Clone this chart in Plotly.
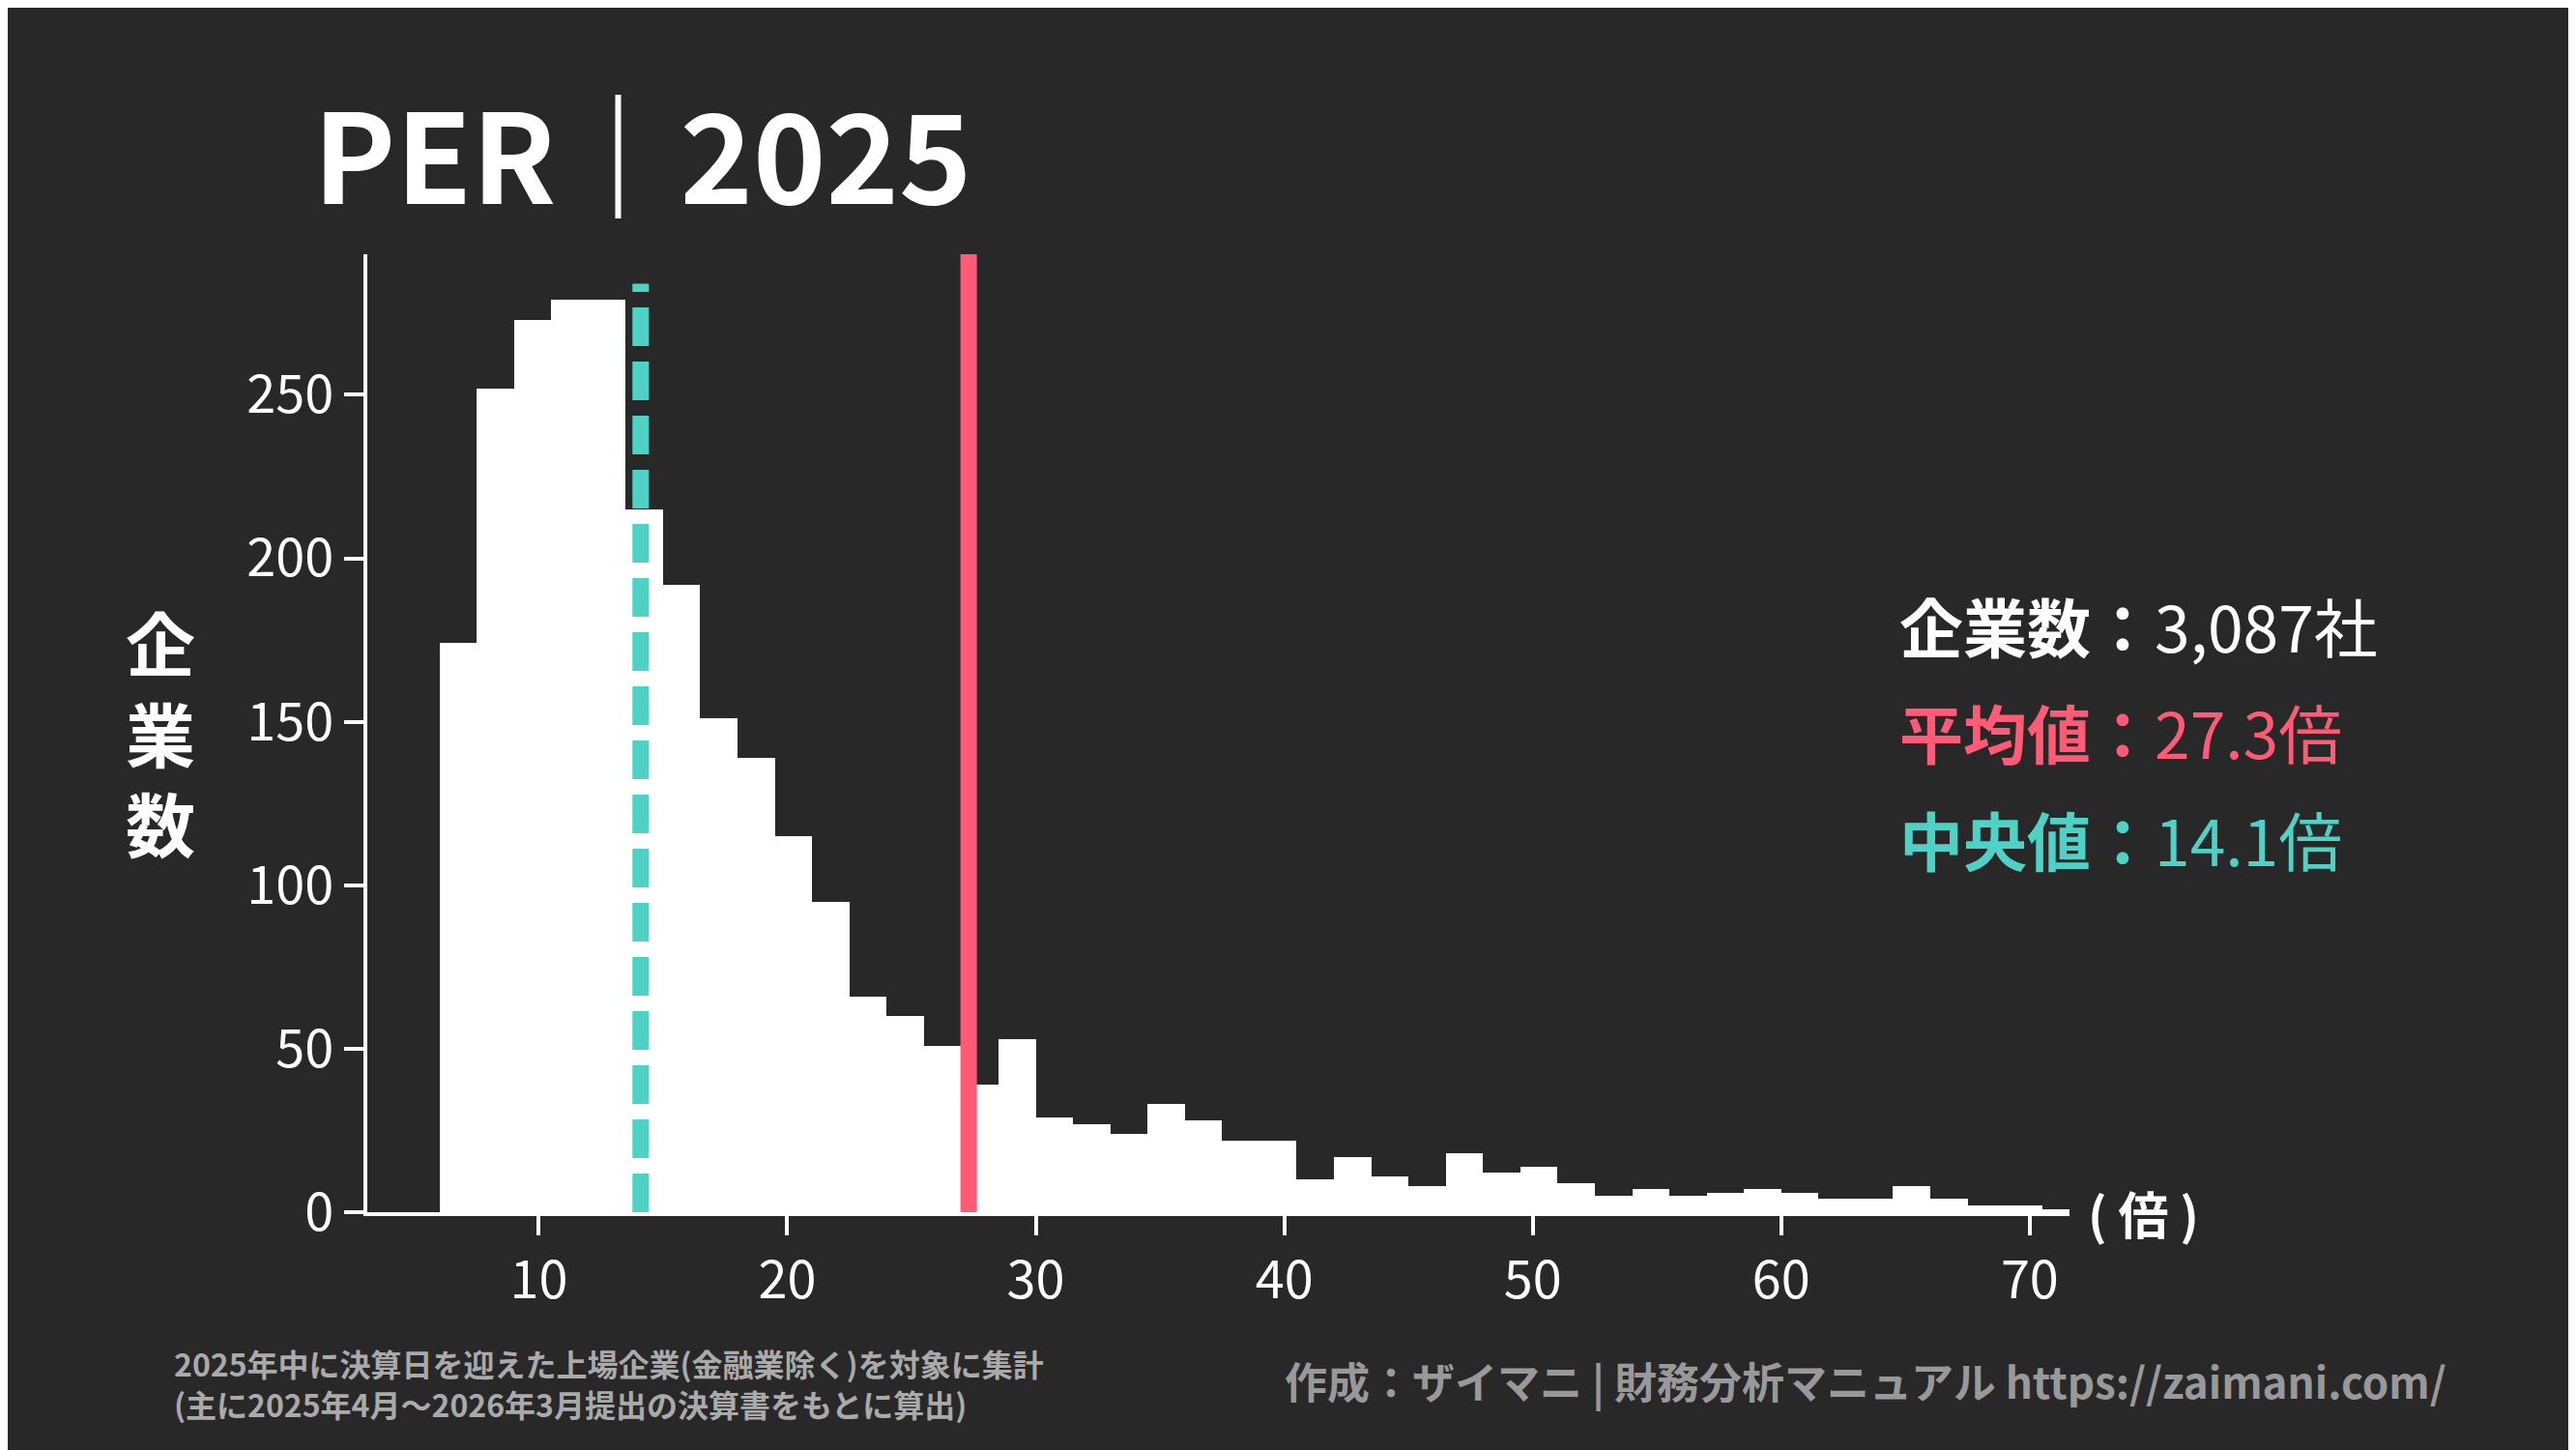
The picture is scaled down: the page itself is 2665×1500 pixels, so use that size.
import plotly.graph_objects as go

bin_start = 6.0
bin_width = 1.5
counts = [174, 252, 273, 279, 279, 215, 192, 151, 139, 115, 95, 66, 60, 51, 39, 53,
          29, 27, 24, 33, 28, 22, 22, 10, 17, 11, 8, 18, 12, 14, 9, 5, 7, 5, 6, 7,
          6, 4, 4, 8, 4, 2, 2, 1]
mean_val = 27.3
median_val = 14.1
n_companies = "3,087"
x_ticks = [10, 20, 30, 40, 50, 60, 70]
y_ticks = [0, 50, 100, 150, 200, 250]

centers = [bin_start + bin_width * (i + 0.5) for i in range(len(counts))]

BG = "#282828"
RED = "#ff5a76"
TEAL = "#4fd1c5"
FONT = "Noto Sans CJK JP"

L, R, T, B = 372, 2133, 255, 1246

fig = go.Figure(go.Bar(x=centers, y=counts, width=bin_width,
                       marker=dict(color="white", line=dict(width=0))))

fig.add_shape(type="line", x0=mean_val, x1=mean_val, y0=0, y1=293,
              line=dict(color=RED, width=17))
fig.add_shape(type="line", x0=median_val, x1=median_val, y0=0, y1=284,
              line=dict(color=TEAL, width=17, dash="40px,16px"))

fig.update_layout(
    width=2665, height=1500,
    paper_bgcolor=BG, plot_bgcolor=BG,
    margin=dict(l=L, r=2665 - R, t=T, b=1500 - B),
    showlegend=False, bargap=0,
    font=dict(family=FONT, color="white"),
    xaxis=dict(range=[3.1, 71.6], tickvals=x_ticks, showgrid=False, zeroline=False,
               showline=True, linecolor="white", linewidth=4,
               ticks="outside", tickcolor="white", tickwidth=4, ticklen=20,
               tickfont=dict(size=54, family=FONT, color="white")),
    yaxis=dict(range=[0, 293], tickvals=y_ticks, showgrid=False, zeroline=False,
               showline=True, linecolor="white", linewidth=4,
               ticks="outside", tickcolor="white", tickwidth=4, ticklen=20,
               tickfont=dict(size=54, family=FONT, color="white")),
)


def px(X, Y):
    return (X - L) / (R - L), (B - Y) / (B - T)


ann = [
    dict(text="<b>PER｜2025</b>", pos=(314, 148), size=128, color="white", xa="left"),
    dict(text="<b>企<br>業<br>数</b>", pos=(158, 748), size=72, color="white", xa="center"),
    dict(text="<b>企業数：</b>" + n_companies + "社", pos=(1955, 638), size=66, color="white", xa="left"),
    dict(text="<b>平均値：</b>" + f"{mean_val}倍", pos=(1955, 748), size=66, color=RED, xa="left"),
    dict(text="<b>中央値：</b>" + f"{median_val}倍", pos=(1955, 859), size=66, color=TEAL, xa="left"),
    dict(text="<b>( 倍 )</b>", pos=(2150, 1246), size=52, color="white", xa="left"),
    dict(text="<b>2025年中に決算日を迎えた上場企業(金融業除く)を対象に集計<br>(主に2025年4月～2026年3月提出の決算書をもとに算出)</b>",
         pos=(170, 1423), size=32, color="#aaaaaa", xa="left"),
    dict(text="<b>作成：ザイマニ | 財務分析マニュアル https://zaimani.com/</b>",
         pos=(2525, 1420), size=44, color="#999999", xa="right"),
]
for a in ann:
    x, y = px(*a["pos"])
    fig.add_annotation(text=a["text"], x=x, y=y, xref="paper", yref="paper",
                       xanchor=a["xa"], yanchor="middle", showarrow=False, align="left",
                       font=dict(size=a["size"], color=a["color"], family=FONT))

fig.write_html("out.html")
